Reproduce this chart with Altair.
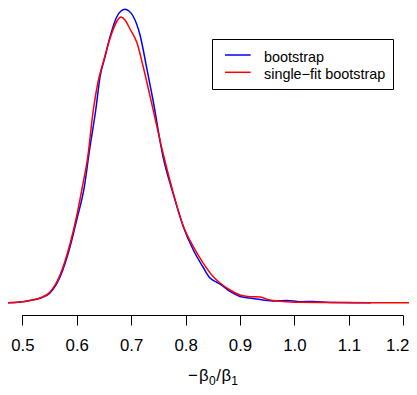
import altair as alt
import pandas as pd

# ---- data (x = -b0/b1, d = density) ----
blue_x = [0.4719, 0.4958, 0.5141, 0.5325, 0.5509, 0.5693, 0.5876, 0.5999, 0.6139,
          0.6235, 0.6349, 0.6428, 0.6519, 0.6611, 0.6734, 0.6813, 0.6887, 0.6960,
          0.7034, 0.7163, 0.7286, 0.7401, 0.7585, 0.7769, 0.7958, 0.8142, 0.8320,
          0.8449, 0.8541, 0.8633, 0.8816, 0.9000, 0.9239, 0.9422, 0.9606,
          0.9863, 1.0102, 1.0341, 1.0654, 1.1407]
blue_d = [0.006, 0.019, 0.048, 0.089, 0.190, 0.494, 1.064, 1.577, 2.204,
          2.907, 3.667, 4.294, 4.674, 5.054, 5.434, 5.548, 5.580, 5.548,
          5.453, 5.092, 4.465, 3.857, 2.780, 2.084, 1.450, 1.007, 0.684,
          0.475, 0.409, 0.361, 0.219, 0.124, 0.086, 0.057, 0.038,
          0.048, 0.025, 0.029, 0.010, 0.006]

red_x = [0.4719, 0.4958, 0.5141, 0.5325, 0.5509, 0.5693, 0.5876, 0.5999, 0.6103,
         0.6202, 0.6304, 0.6391, 0.6488, 0.6575, 0.6666, 0.6740, 0.6813, 0.6887,
         0.6979, 0.7108, 0.7218, 0.7346, 0.7438, 0.7585, 0.7769, 0.7958, 0.8142,
         0.8326, 0.8510, 0.8633, 0.8816, 0.9000, 0.9183, 0.9367,
         0.9551, 0.9863, 1.0102, 1.0654, 1.1389, 1.2251]
red_d = [0.006, 0.019, 0.048, 0.095, 0.209, 0.532, 1.121, 1.653, 2.204,
         2.774, 3.667, 4.199, 4.579, 4.902, 5.187, 5.358, 5.434, 5.377,
         5.206, 4.940, 4.503, 3.933, 3.515, 2.850, 2.109, 1.463, 1.070,
         0.754, 0.500, 0.380, 0.247, 0.152, 0.120, 0.114,
         0.057, 0.025, 0.013, 0.010, 0.006, 0.005]

series = ["bootstrap", "single\u2212fit bootstrap"]
colors = ["#0000FF", "#FF0000"]
tick_values = [0.5, 0.6, 0.7, 0.8, 0.9, 1.0, 1.1, 1.2]
# x-axis title  -beta_0 / beta_1, as (text, is_subscript) pieces
title_pieces = [("\u2212", False), ("\u03b2", False), ("0", True),
                ("/", False), ("\u03b2", False), ("1", True)]

# ---- table ----
df = pd.concat([
    pd.DataFrame({"x": blue_x, "d": blue_d, "series": series[0]}),
    pd.DataFrame({"x": red_x, "d": red_d, "series": series[1]}),
], ignore_index=True)

W, H = 401, 307
FONT = "Liberation Sans"

xscale = alt.Scale(domain=[0.4737, 1.2105], nice=False, zero=False)
yscale = alt.Scale(domain=[-0.228, 5.605], nice=False, zero=False)

lines = alt.Chart(df).mark_line(strokeWidth=1.5, interpolate="monotone", clip=True).encode(
    x=alt.X("x:Q", scale=xscale, axis=alt.Axis(
        values=tick_values, format=".1f", domain=False, grid=False,
        tickSize=10, tickColor="black", tickWidth=1,
        labelFont=FONT, labelFontSize=16.8, labelColor="black", labelPadding=12,
        labelFlush=False,
        labelOffset={"condition": {"test": "datum.value > 1.15", "value": -6}, "value": 0},
        title=None)),
    y=alt.Y("d:Q", scale=yscale, axis=None),
    color=alt.Color("series:N", scale=alt.Scale(domain=series, range=colors), legend=None),
)

axis_line = alt.Chart(pd.DataFrame({"a": [tick_values[0]], "b": [tick_values[-1]]})).mark_rule(
    color="black", strokeWidth=1).encode(
    x=alt.X("a:Q", scale=xscale), x2="b:Q", y=alt.value(H + 0.5))

# ---- axis title built from pieces (plotmath style) ----
title_layers = []
tx = 180.0
base_y = H + 66
gaps = [1.2, 0.2, 0.6, 0.6, 0.2, 0.0]
for (txt, sub), g in zip(title_pieces, gaps):
    fs = 12.0 if sub else 16.8
    title_layers.append(alt.Chart(pd.DataFrame({"t": [txt]})).mark_text(
        align="left", baseline="alphabetic", font=FONT, fontSize=fs, color="black").encode(
        x=alt.value(tx), y=alt.value(base_y + (3.5 if sub else 0)), text="t:N"))
    w = {"\u2212": 0.584, "\u03b2": 0.576, "/": 0.278, "0": 0.556, "1": 0.556}[txt] * fs
    tx += w + g

# ---- legend (drawn by hand, R style) ----
box = alt.Chart(pd.DataFrame({"k": [0]})).mark_rect(
    fill="white", stroke="black", strokeWidth=1).encode(
    x=alt.value(204.5), x2=alt.value(385.5), y=alt.value(31.5), y2=alt.value(81.5))

leg_layers = []
row_y = [47, 64.3]
for i, (name, col) in enumerate(zip(series, colors)):
    one = pd.DataFrame({"series": [name]})
    leg_layers.append(alt.Chart(one).mark_rule(color=col, strokeWidth=1.5).encode(
        x=alt.value(217), x2=alt.value(242.7), y=alt.value(row_y[i])))
    leg_layers.append(alt.Chart(one).mark_text(
        align="left", baseline="alphabetic", font=FONT, fontSize=14.4, color="black").encode(
        x=alt.value(256), y=alt.value(row_y[i] + 7), text="series:N"))

chart = alt.layer(lines, axis_line, box, *leg_layers, *title_layers).properties(
    width=W, height=H,
    autosize=alt.AutoSizeParams(type="none"),
    padding={"left": 0, "top": 0, "right": 0, "bottom": 72},
    background="white",
).configure_view(stroke=None)

chart.save("out.html", embed_options={"renderer": "svg", "actions": False})
